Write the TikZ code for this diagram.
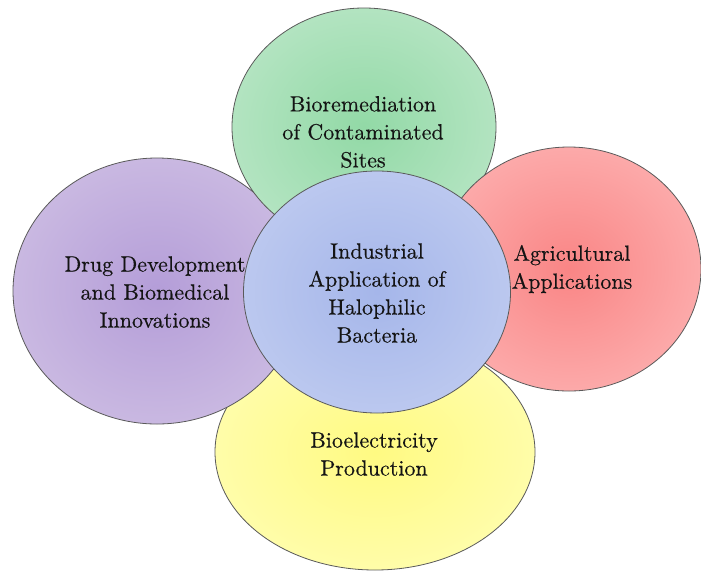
\documentclass[tikz,border=0pt]{standalone}
\usepackage{fontspec}
\newfontfamily\labelfont{lmroman10-regular.otf}[FakeBold=0.35]
\usetikzlibrary{shapes.geometric}
\definecolor{edgegray}{HTML}{5A5A5A}
\definecolor{greenin}{HTML}{92D9A6}
\definecolor{greenout}{HTML}{CEEDD7}
\definecolor{redin}{HTML}{F98585}
\definecolor{redout}{HTML}{FFC8C8}
\definecolor{purpin}{HTML}{B49DD8}
\definecolor{purpout}{HTML}{DBCFE9}
\definecolor{bluein}{HTML}{A5B6EA}
\definecolor{blueout}{HTML}{CED7F3}
\definecolor{yelin}{HTML}{FFFA82}
\definecolor{yelout}{HTML}{FFFFCA}
\pgfdeclareradialshading{gshade}{\pgfpoint{0bp}{0bp}}{color(0bp)=(greenin); color(46bp)=(greenout); color(60bp)=(greenout)}
\pgfdeclareradialshading{rshade}{\pgfpoint{0bp}{0bp}}{color(0bp)=(redin); color(46bp)=(redout); color(60bp)=(redout)}
\pgfdeclareradialshading{pshade}{\pgfpoint{0bp}{0bp}}{color(0bp)=(purpin); color(46bp)=(purpout); color(60bp)=(purpout)}
\pgfdeclareradialshading{bshade}{\pgfpoint{0bp}{0bp}}{color(0bp)=(bluein); color(46bp)=(blueout); color(60bp)=(blueout)}
\pgfdeclareradialshading{yshade}{\pgfpoint{0bp}{0bp}}{color(0bp)=(yelin); color(46bp)=(yelout); color(60bp)=(yelout)}
\tikzset{
  blob/.style={ellipse, draw=edgegray, line width=0.8pt, inner sep=0pt},
  lbl/.style={align=center, inner sep=0pt, text=black!92, font=\labelfont\fontsize{22}{28}\selectfont}
}
\begin{document}
\begin{tikzpicture}[x=1pt, y=-1pt]
  \useasboundingbox (0,0) rectangle (701,571);
  \fill[white] (0,0) rectangle (701,571);
  % ellipses
  \node[blob, shading=yshade, minimum width=320pt, minimum height=236pt] (yel) at (375,452) {};
  \node[blob, shading=pshade, minimum width=288pt, minimum height=266pt] (pur) at (157,291) {};
  \node[blob, shading=gshade, minimum width=264pt, minimum height=238pt] (grn) at (364,127) {};
  \node[blob, shading=rshade, minimum width=264pt, minimum height=244pt] (red) at (569,269) {};
  \node[blob, shading=bshade, minimum width=267pt, minimum height=242pt] (blu) at (377,292) {};
  % labels
  \node[lbl] (tgrn) at (363,132) {Bioremediation\\of Contaminated\\Sites};
  \node[lbl] (tpur) at (155,292) {Drug Development\\and Biomedical\\Innovations};
  \node[lbl] (tblu) at (377,293) {Industrial\\Application of\\Halophilic\\Bacteria};
  \node[lbl] (tred) at (572,269) {Agricultural\\Applications};
  \node[lbl] (tyel) at (374,454) {Bioelectricity\\Production};
\end{tikzpicture}
\end{document}
